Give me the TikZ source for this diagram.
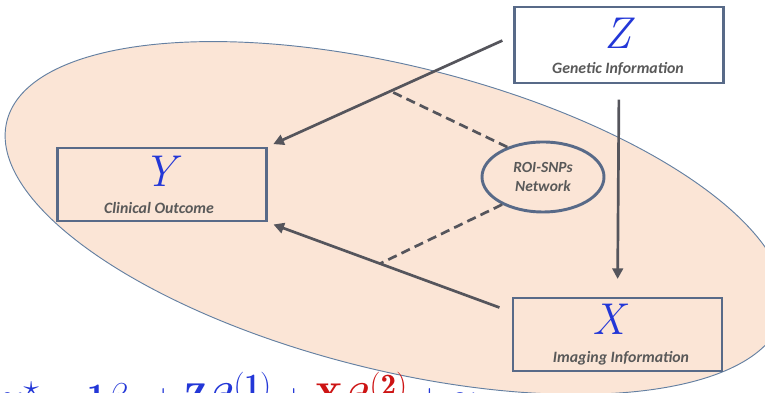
\documentclass[tikz,border=0pt]{standalone}
\usepackage{amsmath,amssymb}
\usepackage{fontspec}
\newfontfamily\calibrifont{Carlito}
\usepackage{tikz}
\usetikzlibrary{shapes.geometric,arrows.meta}

\definecolor{boxline}{RGB}{88,106,136}
\definecolor{arrowgray}{RGB}{85,85,92}
\definecolor{ellfill}{RGB}{251,229,214}
\definecolor{elledge}{RGB}{100,128,162}
\definecolor{symblue}{RGB}{35,55,215}
\definecolor{labelgray}{RGB}{89,89,89}
\definecolor{eqred}{RGB}{205,20,20}

\tikzset{
  kasten/.style={draw=boxline, line width=2.5pt, minimum width=6.27cm, minimum height=2.19cm, inner sep=0pt},
  symbol/.style={text=symblue, font=\itshape\fontsize{38}{40}\selectfont, anchor=base, inner sep=0pt},
  beschriftung/.style={text=labelgray, font=\calibrifont\bfseries\itshape\fontsize{13.5}{16}\selectfont, anchor=base, inner sep=0pt},
  pfeil/.style={draw=arrowgray, line width=2.3pt, -{Triangle[length=9pt,width=9pt]}},
  gestrichelt/.style={draw=arrowgray, line width=2.3pt, dash pattern=on 8pt off 4.5pt},
}

\begin{document}
\begin{tikzpicture}
        \useasboundingbox (0,0) rectangle (22.95,11.79);
        \clip (0,0) rectangle (22.95,11.79);

        % Ellipse im Hintergrund
        \draw[fill=ellfill, draw=elledge, line width=0.8pt, rotate around={-14:(11.85,5.25)}]
            (11.85,5.25) ellipse (12 and 4.56);

        % Kaesten
        \node[kasten, minimum height=2.28cm] (Zbox) at (18.57,10.44) {};
        \node[kasten] (Ybox) at (4.86,6.255) {};
        \node[kasten] (Xbox) at (18.525,1.755) {};

        % Beschriftungen
        \node[symbol] (Zsym) at (18.55,10.32) {Z};
        \node[beschriftung] (Ztext) at (18.54,9.57) {Genetic Information};
        \node[symbol] (Ysym) at (4.8,6.18) {Y};
        \node[beschriftung] (Ytext) at (4.77,5.37) {Clinical Outcome};
        \node[symbol] (Xsym) at (18.27,1.74) {X};
        \node[beschriftung] (Xtext) at (18.63,0.9) {Imaging Information};

        % Netzwerk
        \node[ellipse, draw=boxline, line width=2.5pt, minimum width=3.66cm, minimum height=2.1cm,
              inner sep=0pt, align=center, text=labelgray,
              font=\calibrifont\bfseries\itshape\fontsize{13.2}{15.5}\selectfont] (roi) at (16.29,6.48)
            {ROI-SNPs\\Network};

        % Pfeile
        \draw[pfeil, shorten <=10pt, shorten >=5pt]
            (Zbox.175) -- coordinate[pos=0.5] (zy) (Ybox.north east);
        \draw[pfeil, shorten <=11pt, shorten >=5pt]
            (Xbox.168) -- coordinate[pos=0.54] (xy) (Ybox.south east);
        \draw[pfeil, shorten <=13pt, shorten >=15pt] (Zbox.south) -- (Xbox.north);

        % Gestrichelte Linien
        \draw[gestrichelt] (roi.140) -- (zy);
        \draw[gestrichelt] (roi.214) -- (xy);

        % Formel (unten abgeschnitten)
        \node[anchor=base west, inner sep=0pt, scale=1.28, text=symblue, font=\fontsize{24.88}{30}\selectfont] (modell) at (0,-0.5)
            {$\boldsymbol{y}^{\star} = \mathbf{1}\beta_0 + \mathbf{Z}\boldsymbol{\beta}^{(\mathbf{1})} + {\color{eqred}\mathbf{X}\boldsymbol{\beta}^{(\mathbf{2})}} + \boldsymbol{\gamma}$};
\end{tikzpicture}
\end{document}
